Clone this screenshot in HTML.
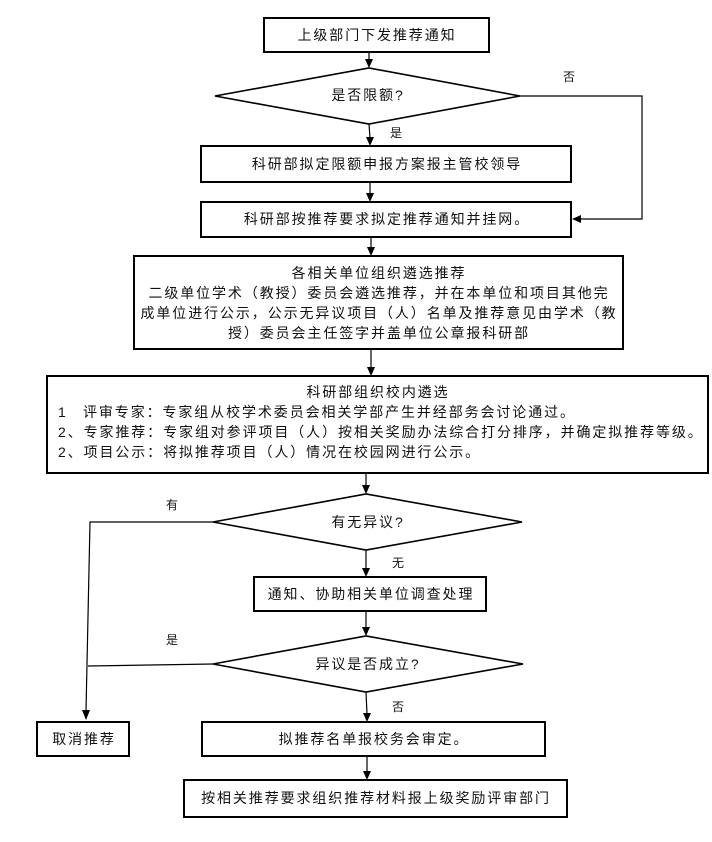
<!DOCTYPE html>
<html>
<head>
<meta charset="utf-8">
<style>
  html,body{margin:0;padding:0;background:#fff;}
  svg{display:block;}
  text{font-family:"Liberation Sans","Noto Sans CJK SC",sans-serif;fill:#111;}
  .t{font-size:14px;letter-spacing:1.9px;}
  .l{font-size:12px;}
</style>
</head>
<body>
<svg width="712" height="842" viewBox="0 0 712 842" xmlns="http://www.w3.org/2000/svg">
  <rect x="0" y="0" width="712" height="842" fill="#fff"/>

  <!-- Boxes -->
  <g fill="none" stroke="#000" stroke-width="2">
    <rect x="264" y="18" width="225" height="34"/>
    <rect x="201" y="146" width="370" height="36"/>
    <rect x="201" y="202" width="370" height="35"/>
    <rect x="134" y="256" width="489" height="93"/>
    <rect x="47" y="376" width="661" height="97"/>
    <rect x="254" y="577" width="232" height="34"/>
    <rect x="37" y="722" width="92" height="34"/>
    <rect x="202" y="722" width="343" height="34"/>
    <rect x="184" y="780" width="383" height="37"/>
  </g>

  <!-- Diamonds -->
  <g fill="none" stroke="#000" stroke-width="1.6">
    <polygon points="215,96 369,68 520,96 369,124"/>
    <polygon points="213,522 366,494 522,522 366,550"/>
    <polygon points="213,664 366,636 523,664 366,692"/>
  </g>

  <!-- Connectors -->
  <g fill="none" stroke="#000" stroke-width="1.2">
    <line x1="369" y1="52" x2="369" y2="60"/>
    <line x1="369" y1="124" x2="370" y2="138"/>
    <line x1="370" y1="182" x2="370" y2="194"/>
    <polyline points="520,96 642,96 642,219 580,219"/>
    <line x1="371" y1="237" x2="371" y2="248"/>
    <line x1="371" y1="349" x2="371" y2="368"/>
    <line x1="366" y1="473" x2="366" y2="486"/>
    <line x1="366" y1="550" x2="366" y2="569"/>
    <line x1="366" y1="611" x2="366" y2="628"/>
    <line x1="366" y1="692" x2="367" y2="714"/>
    <line x1="367" y1="756" x2="367" y2="772"/>
    <polyline points="213,522 90,522 86,711"/>
    <line x1="213" y1="664" x2="88" y2="666"/>
  </g>

  <!-- Arrowheads -->
  <g fill="#000">
    <polygon points="365,59 373,59 369,68"/>
    <polygon points="366,137 374,137 370,146"/>
    <polygon points="366,193 374,193 370,202"/>
    <polygon points="581,215 581,223 572,219"/>
    <polygon points="367,247 375,247 371,256"/>
    <polygon points="367,367 375,367 371,376"/>
    <polygon points="362,485 370,485 366,494"/>
    <polygon points="362,568 370,568 366,577"/>
    <polygon points="362,627 370,627 366,636"/>
    <polygon points="363,713 371,713 367,722"/>
    <polygon points="363,771 371,771 367,780"/>
    <polygon points="82,710 90,710 86,720"/>
  </g>

  <!-- Box texts -->
  <g class="t" dominant-baseline="central">
    <text x="377" y="35" text-anchor="middle">上级部门下发推荐通知</text>
    <text x="368" y="95" text-anchor="middle">是否限额?</text>
    <text x="387" y="164" text-anchor="middle">科研部拟定限额申报方案报主管校领导</text>
    <text x="387" y="219" text-anchor="middle">科研部按推荐要求拟定推荐通知并挂网。</text>

    <text x="379" y="273" text-anchor="middle">各相关单位组织遴选推荐</text>
    <text x="379" y="293" text-anchor="middle">二级单位学术（教授）委员会遴选推荐，并在本单位和项目其他完</text>
    <text x="379" y="313" text-anchor="middle">成单位进行公示，公示无异议项目（人）名单及推荐意见由学术（教</text>
    <text x="379" y="333" text-anchor="middle">授）委员会主任签字并盖单位公章报科研部</text>

    <text x="378" y="392" text-anchor="middle">科研部组织校内遴选</text>
    <text x="58" y="412">1</text>
    <text x="83" y="412">评审专家：专家组从校学术委员会相关学部产生并经部务会讨论通过。</text>
    <text x="58" y="432">2、专家推荐：专家组对参评项目（人）按相关奖励办法综合打分排序，并确定拟推荐等级。</text>
    <text x="58" y="452">2、项目公示：将拟推荐项目（人）情况在校园网进行公示。</text>

    <text x="368" y="522" text-anchor="middle">有无异议?</text>
    <text x="371" y="594" text-anchor="middle">通知、协助相关单位调查处理</text>
    <text x="368" y="664" text-anchor="middle">异议是否成立?</text>
    <text x="84" y="739" text-anchor="middle">取消推荐</text>
    <text x="374" y="739" text-anchor="middle">拟推荐名单报校务会审定。</text>
    <text x="376" y="798" text-anchor="middle">按相关推荐要求组织推荐材料报上级奖励评审部门</text>
  </g>

  <!-- Branch labels -->
  <g class="l" dominant-baseline="central" text-anchor="middle">
    <text x="569" y="77">否</text>
    <text x="396" y="133">是</text>
    <text x="172" y="505">有</text>
    <text x="398" y="563">无</text>
    <text x="172" y="640">是</text>
    <text x="398" y="707">否</text>
  </g>
</svg>
</body>
</html>
